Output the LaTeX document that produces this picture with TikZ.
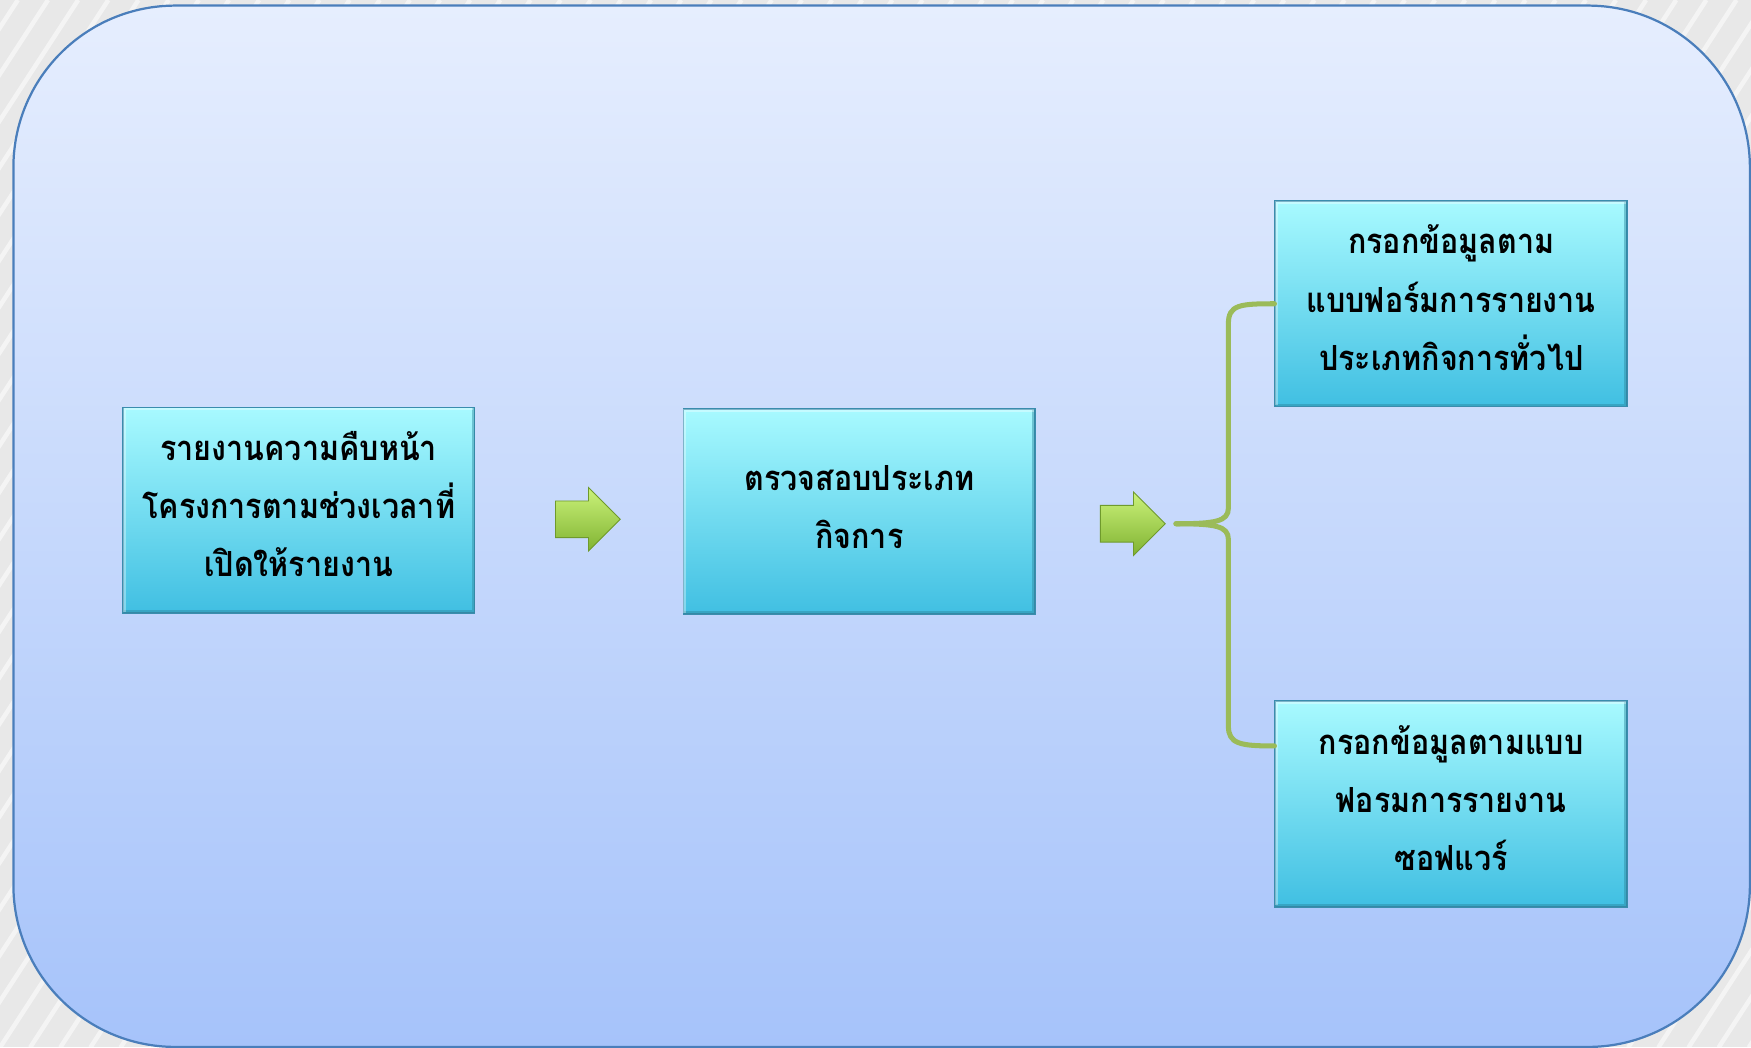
\documentclass[tikz,border=0pt]{standalone}
\usepackage{fontspec}
\newfontfamily\thai[Script=Thai, FakeStretch=0.88]{Loma}
\usetikzlibrary{shapes.arrows}
\newcommand\boxlines[1]{\raisebox{3pt}[\height][\depth]{\begin{tabular}{@{}c@{}}#1\end{tabular}}}
\definecolor{bggrey}{HTML}{E8E8E8}
\definecolor{outtop}{HTML}{E6EEFE}
\definecolor{outbot}{HTML}{A6C3FA}
\definecolor{outedge}{HTML}{4A7EBB}
\definecolor{boxtop}{HTML}{A8FAFF}
\definecolor{boxbot}{HTML}{40BFE2}
\definecolor{boxedge}{HTML}{3A8DAD}
\definecolor{grtop}{HTML}{CBF27A}
\definecolor{grbot}{HTML}{80B332}
\definecolor{gredge}{HTML}{6F9A2C}
\definecolor{bracec}{HTML}{9BBB59}
\tikzset{
  stripe/.style={white, opacity=0.55, line width=4pt},
  outer/.style={draw=outedge, line width=2pt, top color=outtop, bottom color=outbot, rounded corners=145pt},
  stepbox/.style={draw=boxedge, line width=1.5pt, top color=boxtop, bottom color=boxbot,
    minimum width=315pt, minimum height=184pt, inner sep=0pt, text=black,
    font=\thai\bfseries\fontsize{31}{52}\selectfont},
  bevel/.style={line width=2.5pt},
  blockarrow/.style={single arrow, single arrow head extend=12pt, minimum height=58pt,
    inner xsep=0pt, inner ysep=16pt, draw=gredge, line width=0.8pt, top color=grtop, bottom color=grbot, anchor=tail},
  brace/.style={bracec, line width=4.5pt, line cap=round}
}
\begin{document}
\begin{tikzpicture}[x=1pt, y=-1pt]
\useasboundingbox (0,0) rectangle (1568,938);
\begin{scope}
  \clip (0,0) rectangle (1568,938);
  \fill[bggrey] (0,0) rectangle (1568,938);
  \foreach \i in {-40,...,62} \draw[stripe] (\i*27,938) -- ++(610,-938);
  \path[outer] (12,5) rectangle (1567,937.5);
\end{scope}

\node[stepbox] (b1) at (267.5,457) {\boxlines{รายงานความคืบหน้า\\โครงการตามช่วงเวลาที่\\เปิดให้รายงาน}};
\node[stepbox] (b2) at (769.5,458) {\boxlines{ตรวจสอบประเภท\\กิจการ}};
\node[stepbox] (b3) at (1299.5,272) {\boxlines{กรอกข้อมูลตาม\\แบบฟอร์มการรายงาน\\ประเภทกิจการทั่วไป}};
\node[stepbox] (b4) at (1299.5,720) {\boxlines{กรอกข้อมูลตามแบบ\\ฟอรมการรายงาน\\ซอฟแวร์}};

\foreach \b in {b1,b2,b3,b4}{
  \draw[bevel, boxbot!70!black, opacity=0.45] ([shift={(1.5pt,2pt)}]\b.south west) -- ([shift={(-2pt,2pt)}]\b.south east) -- ([shift={(-2pt,-1.5pt)}]\b.north east);
  \draw[bevel, white, opacity=0.35] ([shift={(2pt,2pt)}]\b.south west) -- ([shift={(2pt,-2pt)}]\b.north west) -- ([shift={(-2pt,-2pt)}]\b.north east);
}

\node[blockarrow] (a1) at (497,465) {};
\node[blockarrow] (a2) at (985,469) {};

\coordinate (tip) at (1053,469);
\coordinate (b4in) at ([yshift=52pt]b4.west);
\draw[brace] (tip) .. controls (1088,469) and (1100,467) .. (1100,455) -- (1100,290) .. controls (1100,273) and (1110,272) .. (b3.west);
\draw[brace] (tip) .. controls (1088,469) and (1100,471) .. (1100,483) -- (1100,650) .. controls (1100,666) and (1110,668) .. (b4in);
\end{tikzpicture}
\end{document}
